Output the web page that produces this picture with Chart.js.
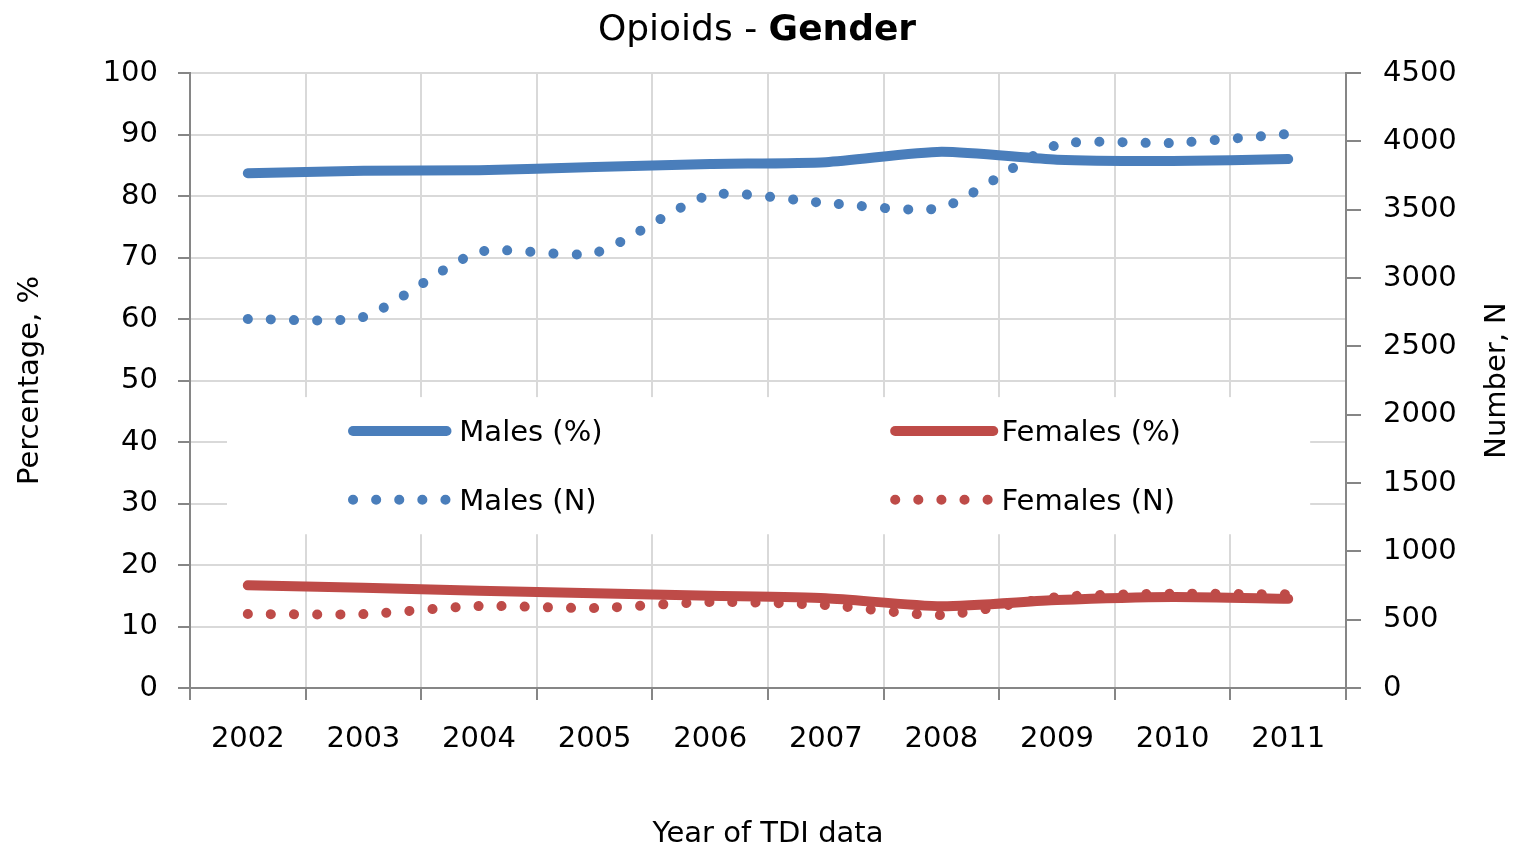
<!DOCTYPE html>
<html>
<head>
<meta charset="utf-8">
<script src="https://cdn.jsdelivr.net/npm/chart.js@4.4.1/dist/chart.umd.min.js"></script>
<style>
  html, body { margin: 0; padding: 0; background: #fff; }
  #wrap { position: relative; width: 1518px; height: 848px; }
  #title {
    position: absolute; top: 7px; left: 0; width: 1514px; text-align: center;
    font-family: "DejaVu Sans", sans-serif; font-size: 36px; line-height: 42px; color: #000;
  }
</style>
</head>
<body>
<div id="wrap">
  <div id="title">Opioids - <b>Gender</b></div>
  <canvas id="lineChart" width="1518" height="848"></canvas>
</div>
<script>
const years = ['2002', '2003', '2004', '2005', '2006', '2007', '2008', '2009', '2010', '2011'];
const malesPct = [83.7, 84.1, 84.2, 84.7, 85.2, 85.5, 87.2, 85.9, 85.7, 86.0];
const femalesPct = [16.7, 16.3, 15.8, 15.4, 15.0, 14.6, 13.3, 14.3, 14.8, 14.5];
const malesN = [2700, 2715, 3190, 3183, 3607, 3549, 3515, 3973, 3988, 4054];
const femalesN = [541, 541, 600, 585, 629, 607, 534, 665, 690, 685];

const blue = '#4a7ebb';
const red = '#be4b48';
const gridGrey = '#d9d9d9';
const axisGrey = '#868686';
const fontFamily = '"DejaVu Sans", sans-serif';
const tickFont = { family: fontFamily, size: 29 };
const rightTitle = 'Number, N';

// legend drawn inside the plot area, over the gridlines
const innerLegend = {
  id: 'innerLegend',
  beforeDatasetsDraw(chart) {
    const { ctx, chartArea: a } = chart;
    const w = a.right - a.left, h = a.bottom - a.top;
    const px = f => a.left + f * w;
    const py = f => a.top + f * h;
    ctx.save();
    ctx.fillStyle = '#fff';
    ctx.fillRect(px(0.032), py(0.527), px(0.969) - px(0.032), py(0.75) - py(0.527));
    const items = [
      { ds: 0, col: 0, row: 0 }, { ds: 1, col: 1, row: 0 },
      { ds: 2, col: 0, row: 1 }, { ds: 3, col: 1, row: 1 }
    ];
    const cols = [[0.141, 0.221, 0.233], [0.610, 0.694, 0.702]];
    const rows = [0.582, 0.694];
    ctx.font = '29px ' + fontFamily;
    ctx.textBaseline = 'middle';
    items.forEach(it => {
      const ds = chart.data.datasets[it.ds];
      const y = py(rows[it.row]);
      const [x0, x1, xt] = cols[it.col];
      ctx.beginPath();
      ctx.strokeStyle = ds.borderColor;
      ctx.lineWidth = ds.borderWidth;
      ctx.lineCap = 'round';
      ctx.setLineDash(ds.borderDash || []);
      ctx.moveTo(px(x0), y);
      ctx.lineTo(px(x1) + 1, y);
      ctx.stroke();
      ctx.setLineDash([]);
      ctx.fillStyle = '#000';
      ctx.fillText(ds.label, px(xt), y + 3);
    });
    ctx.restore();
  },
  // right axis title reads bottom-to-top, like the left one
  afterDraw(chart) {
    const { ctx, chartArea: a, width } = chart;
    ctx.save();
    ctx.translate(width - 21, (a.top + a.bottom) / 2);
    ctx.rotate(-Math.PI / 2);
    ctx.font = '29px ' + fontFamily;
    ctx.fillStyle = '#000';
    ctx.textAlign = 'center';
    ctx.textBaseline = 'middle';
    ctx.fillText(rightTitle, 0, 0);
    ctx.restore();
  }
};

const ctx = document.getElementById('lineChart').getContext('2d');
new Chart(ctx, {
  type: 'line',
  data: {
    labels: years,
    datasets: [
      { label: 'Males (%)', data: malesPct, yAxisID: 'y', borderColor: blue, borderWidth: 10, borderCapStyle: 'round' },
      { label: 'Females (%)', data: femalesPct, yAxisID: 'y', borderColor: red, borderWidth: 10, borderCapStyle: 'round' },
      { label: 'Males (N)', data: malesN, yAxisID: 'y1', borderColor: blue, borderWidth: 10, borderDash: [0.1, 23], borderCapStyle: 'round' },
      { label: 'Females (N)', data: femalesN, yAxisID: 'y1', borderColor: red, borderWidth: 10, borderDash: [0.1, 23], borderCapStyle: 'round' }
    ]
  },
  options: {
    responsive: false,
    animation: false,
    elements: { point: { radius: 0, hoverRadius: 0 }, line: { tension: 0.22 } },
    layout: { padding: { top: 73, left: 0, right: 0, bottom: 0 } },
    plugins: {
      legend: { display: false },
      title: { display: false },
      tooltip: { enabled: false }
    },
    scales: {
      x: {
        offset: true,
        grid: { offset: true, color: gridGrey, lineWidth: 2, tickColor: axisGrey, tickLength: 12 },
        border: { color: axisGrey, width: 2 },
        ticks: { color: '#000', font: tickFont, padding: 22, maxRotation: 0 },
        title: { display: true, text: 'Year of TDI data', color: '#000', font: tickFont, padding: { top: 0, bottom: -4 } },
        afterFit: s => { s.height = 160; }
      },
      y: {
        position: 'left',
        min: 0, max: 100,
        ticks: { stepSize: 10, color: '#000', font: tickFont, padding: 20 },
        grid: { color: gridGrey, lineWidth: 2, tickColor: axisGrey, tickLength: 12 },
        border: { color: axisGrey, width: 2 },
        title: { display: true, text: 'Percentage, %', color: '#000', font: tickFont, padding: { top: 13, bottom: 0 } },
        afterFit: s => { s.width = 190; }
      },
      y1: {
        position: 'right',
        min: 0, max: 4500,
        ticks: { stepSize: 500, color: '#000', font: tickFont, padding: 22, callback: v => String(v) },
        grid: { drawOnChartArea: false, color: axisGrey, lineWidth: 2, tickColor: axisGrey, tickLength: 15 },
        border: { color: axisGrey, width: 2 },
        afterFit: s => { s.width = 172; }
      }
    }
  },
  plugins: [innerLegend]
});
</script>
</body>
</html>
